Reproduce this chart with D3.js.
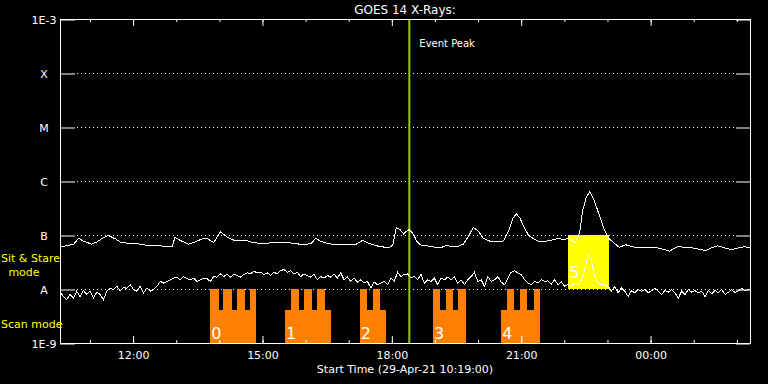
<!DOCTYPE html>
<html>
<head>
<meta charset="utf-8">
<script src="https://cdn.jsdelivr.net/npm/d3@7"></script>
<style>
body { margin: 0; background: #000; }
svg { display: block; }
text { font-family: "DejaVu Sans", sans-serif; fill: #fff; }
</style>
</head>
<body>
<div id="chart"></div>
<script>
// GOES 14 X-ray flux, 29-Apr-21 10:19 -> 30-Apr-21 02:19
var startTime = "10:19", endTime = "02:19";

// 1-8 A channel: clock time + log10 flux (W/m^2)
var longTimes = [
  "10:19","10:28","10:38","10:45","10:51","11:03","11:10","11:17","11:26","11:36",
  "11:43","11:52","12:06","12:20","12:38","12:52","12:55","12:59","13:06","13:18",
  "13:27","13:37","13:44","13:53","14:02","14:12","14:23","14:40","14:47","15:01",
  "15:15","15:29","15:43","15:57","16:08","16:15","16:22","16:32","16:43","16:57",
  "17:11","17:20","17:30","17:39","17:48","17:57","18:02","18:07","18:12","18:17",
  "18:20","18:25","18:31","18:35","18:40","18:47","18:56","19:03","19:10","19:17",
  "19:24","19:33","19:40","19:47","19:54","20:01","20:08","20:18","20:27","20:36",
  "20:43","20:49","20:54","20:59","21:04","21:11","21:18","21:25","21:34","21:44",
  "21:53","22:00","22:07","22:12","22:16","22:22","22:26","22:31","22:36","22:42",
  "22:49","22:56","23:03","23:10","23:17","23:26","23:33","23:43","23:52","00:01",
  "00:11","00:20","00:27","00:39","00:48","00:59","01:11","01:18","01:25","01:34",
  "01:44","01:53","02:02","02:11","02:19"
];
var longLog = [
  -7.22,-7.20,-7.17,-7.06,-7.11,-7.17,-7.13,-7.07,-7.01,-7.07,
  -7.13,-7.15,-7.16,-7.19,-7.20,-7.22,-7.22,-7.04,-7.10,-7.17,
  -7.13,-7.07,-7.07,-7.14,-6.94,-7.04,-7.11,-7.11,-7.14,-7.16,
  -7.14,-7.14,-7.15,-7.18,-7.16,-7.06,-7.12,-7.16,-7.18,-7.17,
  -7.17,-7.10,-7.16,-7.20,-7.22,-7.24,-7.18,-6.86,-6.90,-6.98,
  -6.94,-6.90,-6.99,-7.11,-7.18,-7.20,-7.21,-7.24,-7.23,-7.19,
  -7.22,-7.21,-7.17,-7.03,-6.86,-6.93,-7.06,-7.12,-7.13,-7.11,
  -6.93,-6.69,-6.61,-6.69,-6.84,-7.01,-7.07,-7.12,-7.12,-7.09,
  -7.06,-7.09,-7.05,-7.11,-7.14,-6.96,-6.56,-6.31,-6.20,-6.35,
  -6.62,-6.90,-7.07,-7.15,-7.23,-7.18,-7.21,-7.24,-7.23,-7.24,
  -7.24,-7.27,-7.30,-7.21,-7.23,-7.24,-7.27,-7.29,-7.24,-7.20,
  -7.24,-7.27,-7.24,-7.22,-7.23
];

// 0.5-4 A channel: one sample every shortStep seconds from start, log10 flux
var shortStep = 279;
var shortLog = [
  -8.04,-8.14,-8.20,-8.10,-8.17,-8.04,-8.14,-8.03,-8.10,-8.04,
  -8.17,-8.06,-8.10,-8.20,-8.04,-7.98,-8.01,-7.95,-8.03,-7.97,
  -7.99,-7.92,-8.01,-8.04,-7.95,-8.07,-7.98,-8.04,-8.01,-7.95,
  -7.86,-7.89,-7.86,-7.83,-7.80,-7.78,-7.83,-7.77,-7.81,-7.83,
  -7.80,-7.86,-7.83,-7.80,-7.81,-7.86,-7.77,-7.78,-7.72,-7.77,
  -7.73,-7.78,-7.73,
  -7.75,-7.78,-7.73,-7.70,-7.72,-7.67,-7.70,-7.69,-7.73,-7.70,
  -7.75,-7.69,-7.72,-7.66,-7.64,-7.69,-7.66,-7.72,-7.69,-7.77,
  -7.72,-7.75,-7.78,-7.73,-7.83,-7.77,-7.80,-7.75,-7.78,-7.72,
  -7.80,-7.70,-7.83,-7.78,-7.86,-7.80,-7.87,-7.83,-7.89,-7.86,
  -7.98,-7.87,-7.92,-7.89,-7.86,-7.92,-7.80,-7.86,-7.69,-7.77,
  -7.73,-7.72,
  -7.80,-7.77,-7.83,-7.73,-7.89,-7.83,-7.86,-7.80,-7.92,-7.80,
  -7.83,-7.78,-7.83,-7.77,-7.89,-7.83,-7.92,-7.83,-7.77,-7.69,
  -7.86,-7.83,-7.95,-7.77,-7.86,-7.83,-7.77,-7.87,-7.92,-7.80,
  -7.69,-7.66,-7.70,-7.73,-7.83,-7.89,-7.92,-7.86,-7.89,-7.83,
  -7.86,-7.85,-7.91,-7.83,-7.92,-7.87,-7.95,-7.92,-7.95,-7.89,
  -7.92,
  -7.83,-7.64,-7.36,-7.48,-7.77,-7.89,-7.92,-7.91,-7.95,-8.04,
  -7.95,-8.07,-7.98,-8.04,-8.14,-8.03,-8.07,-8.01,-8.04,-8.01,
  -8.07,-8.03,-7.99,-8.04,-8.10,-8.03,-8.06,-8.01,-8.07,-8.17,
  -8.04,-8.10,-8.01,-8.06,-8.03,-8.07,-8.04,-8.14,-8.03,-8.09,
  -8.03,-8.07,-8.01,-8.10,-8.06,-8.01,-8.07,-8.03,-7.99,-8.03,
  -8.01,-8.03
];

// flare class levels
var levelValues = [1e-9, 1e-8, 1e-7, 1e-6, 1e-5, 1e-4, 1e-3];
var levelLabels = ["1E-9", "A", "B", "C", "M", "X", "1E-3"];

var eventPeak = "18:25";

// scan mode rasters
var scanLabels = ["0", "1", "2", "3", "4"];
var scanStart = ["13:48", "15:32", "17:16", "18:58", "20:33"];
var scanEnd = ["14:52", "16:36", "17:52", "19:44", "21:27"];
var scanSlits = [
  [["13:48","14:00"], ["14:06","14:18"], ["14:25","14:36"], ["14:43","14:52"]],
  [["15:40","15:51"], ["15:58","16:09"], ["16:16","16:27"]],
  [["17:16","17:26"], ["17:34","17:44"]],
  [["18:58","19:08"], ["19:16","19:26"], ["19:33","19:44"]],
  [["20:41","20:51"], ["20:59","21:09"], ["21:18","21:27"]]
];

// sit & stare
var stareLabel = "5", stareStart = "22:06", stareEnd = "23:03";

// clock string -> Date (times before 10:00 belong to the next day)
function at(s) {
  var p = s.split(":").map(Number);
  return new Date(2021, 3, p[0] < 10 ? 30 : 29, p[0], p[1]);
}

var W = 768, H = 384;
var plotL = 60, plotR = 750, plotT = 19, plotB = 343;

var svg = d3.select("#chart").append("svg")
  .attr("width", W).attr("height", H)
  .style("background", "#000");

var t0 = at(startTime);
var x = d3.scaleTime().domain([t0, at(endTime)]).range([plotL, plotR]);
var y = d3.scaleLog().domain([1e-9, 1e-3]).range([plotB, plotT]);

svg.append("clipPath").attr("id", "plot")
  .append("rect").attr("x", plotL).attr("y", plotT)
  .attr("width", plotR - plotL).attr("height", plotB - plotT);

// dotted level lines
svg.append("g")
  .selectAll("line")
  .data(levelValues.slice(1, 6))
  .enter().append("line")
  .attr("x1", plotL + 17).attr("x2", plotR - 14)
  .attr("y1", d => Math.round(y(d)) + 0.5)
  .attr("y2", d => Math.round(y(d)) + 0.5)
  .attr("stroke", "#fff")
  .attr("stroke-dasharray", "1,3");

// sit & stare box
svg.append("rect")
  .attr("x", x(at(stareStart)))
  .attr("y", y(1e-7))
  .attr("width", x(at(stareEnd)) - x(at(stareStart)))
  .attr("height", y(1e-8) - y(1e-7))
  .attr("fill", "#ffff00")
  .attr("shape-rendering", "crispEdges");

svg.append("text")
  .attr("x", x(at(stareStart)) + 1)
  .attr("y", 278)
  .attr("font-size", 16)
  .style("fill", "#fff")
  .text(stareLabel);

// scan mode blocks
var scans = svg.append("g").attr("fill", "#ff8000").attr("shape-rendering", "crispEdges");
scanStart.forEach(function (s, i) {
  scans.append("rect")
    .attr("x", x(at(s)))
    .attr("y", y(4.1e-9))
    .attr("width", x(at(scanEnd[i])) - x(at(s)))
    .attr("height", y(1e-9) - y(4.1e-9));
  scanSlits[i].forEach(function (d) {
    scans.append("rect")
      .attr("x", x(at(d[0])))
      .attr("y", y(1e-8))
      .attr("width", x(at(d[1])) - x(at(d[0])))
      .attr("height", y(4.1e-9) - y(1e-8));
  });
  svg.append("text")
    .attr("x", x(at(s)) + 1)
    .attr("y", 339)
    .attr("font-size", 16)
    .text(scanLabels[i]);
});

// event peak marker
svg.append("line")
  .attr("x1", x(at(eventPeak))).attr("x2", x(at(eventPeak)))
  .attr("y1", plotT).attr("y2", plotB)
  .attr("stroke", "#96c800")
  .attr("stroke-width", 2);

svg.append("text")
  .attr("x", x(at(eventPeak)) + 10)
  .attr("y", 47)
  .attr("font-size", 10)
  .text("Event Peak");

// flux curves
var line = d3.line()
  .x(d => x(d[0]))
  .y(d => y(Math.pow(10, d[1])));

var longData = longTimes.map((t, i) => [at(t), longLog[i]]);
var shortData = shortLog.map((v, i) => [new Date(+t0 + i * shortStep * 1000), v]);

var curves = svg.append("g").attr("clip-path", "url(#plot)");
[longData, shortData].forEach(function (d) {
  curves.append("path")
    .datum(d)
    .attr("fill", "none")
    .attr("stroke", "#fff")
    .attr("stroke-width", 1)
    .attr("shape-rendering", "crispEdges")
    .attr("d", line);
});

// frame
svg.append("rect")
  .attr("x", plotL + 0.5).attr("y", plotT + 0.5)
  .attr("width", plotR - plotL).attr("height", plotB - plotT)
  .attr("fill", "none").attr("stroke", "#fff");

// time axes
function timeAxis(axis, ty, size, every, labels) {
  var g = svg.append("g")
    .attr("transform", `translate(0.5, ${ty})`)
    .call(axis(x).ticks(d3.timeHour.every(every)).tickSize(size).tickSizeOuter(0)
      .tickFormat(labels ? d3.timeFormat("%H:%M") : ""));
  g.select(".domain").remove();
  g.selectAll("line").attr("stroke", "#fff");
  g.selectAll("text").attr("font-size", 11).attr("fill", "#fff")
    .attr("font-family", "DejaVu Sans").attr("dy", "1.2em");
  return g;
}
timeAxis(d3.axisBottom, plotB, -7, 3, true);
timeAxis(d3.axisBottom, plotB, -3, 1, false);
timeAxis(d3.axisTop, plotT, -7, 3, false);
timeAxis(d3.axisTop, plotT, -3, 1, false);

// level axes
var yl = svg.append("g")
  .attr("transform", `translate(${plotL}, 0.5)`)
  .call(d3.axisLeft(y).tickValues(levelValues).tickSize(-15).tickSizeOuter(0)
    .tickFormat((d, i) => levelLabels[i]));
yl.select(".domain").remove();
yl.selectAll("line").attr("stroke", "#fff");
yl.selectAll("text")
  .attr("x", 44 - plotL)
  .attr("text-anchor", "middle")
  .attr("font-size", 11)
  .attr("font-family", "DejaVu Sans")
  .attr("fill", "#fff");

var yr = svg.append("g")
  .attr("transform", `translate(${plotR}, 0.5)`)
  .call(d3.axisRight(y).tickValues(levelValues).tickSize(-14).tickSizeOuter(0).tickFormat(""));
yr.select(".domain").remove();
yr.selectAll("line").attr("stroke", "#fff");

// titles
svg.append("text")
  .attr("x", (plotL + plotR) / 2).attr("y", 14)
  .attr("text-anchor", "middle")
  .attr("font-size", 12)
  .text("GOES 14 X-Rays:");

svg.append("text")
  .attr("x", (plotL + plotR) / 2).attr("y", 373)
  .attr("text-anchor", "middle")
  .attr("font-size", 11)
  .text("Start Time (29-Apr-21 10:19:00)");

// mode labels
var modes = svg.append("g").attr("font-size", 11).style("fill", "#ffff00");
modes.append("text").attr("x", 1).attr("y", 262).style("fill", "#ffff00").text("Sit & Stare");
modes.append("text").attr("x", 24).attr("y", 276).attr("text-anchor", "middle").style("fill", "#ffff00").text("mode");
modes.append("text").attr("x", 1).attr("y", 328).style("fill", "#ffff00").text("Scan mode");
</script>
</body>
</html>
